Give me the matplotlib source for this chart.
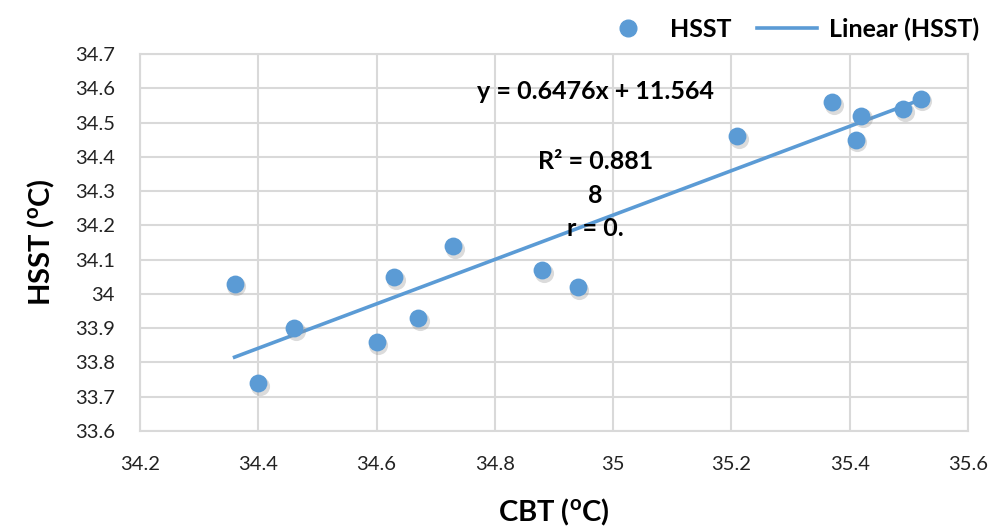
import numpy as np
import matplotlib
matplotlib.use('Agg')
import matplotlib.pyplot as plt
from matplotlib.lines import Line2D

plt.rcParams['font.family'] = ['Lato', 'DejaVu Sans']
plt.rcParams['mathtext.fontset'] = 'custom'
plt.rcParams['mathtext.rm'] = 'Lato:bold'
plt.rcParams['mathtext.it'] = 'Lato:bold'
plt.rcParams['mathtext.bf'] = 'Lato:bold'

# data
cbt = [34.36, 34.40, 34.46, 34.60, 34.63, 34.67, 34.73, 34.88, 34.94,
       35.21, 35.37, 35.41, 35.42, 35.49, 35.52]
hsst = [34.03, 33.74, 33.90, 33.86, 34.05, 33.93, 34.14, 34.07, 34.02,
        34.46, 34.56, 34.45, 34.52, 34.54, 34.57]
slope, intercept = 0.6476, 11.564
x_ticks = [34.2, 34.4, 34.6, 34.8, 35, 35.2, 35.4, 35.6]
y_ticks = [33.6, 33.7, 33.8, 33.9, 34, 34.1, 34.2, 34.3, 34.4, 34.5, 34.6, 34.7]

blue = '#5B9BD5'
grid = '#D9D9D9'

fig = plt.figure(figsize=(9.94, 5.31), dpi=100)
ax = fig.add_axes([0.1408, 0.1883, 0.8330, 0.7100])

# trendline over the data range
xl = np.array([min(cbt), max(cbt)])
ax.plot(xl, slope * xl + intercept, color=blue, lw=2.6, zorder=2)

# soft shadow, then markers
ax.scatter(np.array(cbt) + 0.003, np.array(hsst) - 0.008, s=190, color='#8a8a8a',
           alpha=0.3, linewidths=0, zorder=3)
ax.scatter(cbt, hsst, s=165, color=blue, linewidths=0, zorder=4)

ax.set_xlim(34.2, 35.6)
ax.set_ylim(33.6, 34.7)
ax.set_xticks(x_ticks)
ax.set_xticklabels([f'{t:g}' for t in x_ticks])
ax.set_yticks(y_ticks)
ax.set_yticklabels([f'{t:g}' for t in y_ticks])
ax.tick_params(length=0, labelsize=14.5, colors='#222222', pad=18)
ax.grid(True, color=grid, lw=1.5)
ax.set_axisbelow(True)
for s in ax.spines.values():
    s.set_color(grid)
    s.set_linewidth(1.5)

ax.set_xlabel(r'CBT ($^{\mathrm{o}}$C)', fontsize=21, fontweight='bold', labelpad=17)
ax.set_ylabel(r'HSST ($^{\mathrm{o}}$C)', fontsize=21, fontweight='bold', labelpad=13)

# equation texts
tx = 34.97
ax.text(tx, 34.592, f'y = {slope}x + {intercept}', fontsize=18, fontweight='bold',
        ha='center', va='center')
ax.text(tx, 34.385, 'R² = 0.881', fontsize=18, fontweight='bold', ha='center', va='center')
ax.text(tx, 34.286, '8', fontsize=18, fontweight='bold', ha='center', va='center')
ax.text(tx, 34.19, 'r = 0.', fontsize=18, fontweight='bold', ha='center', va='center')

handles = [Line2D([], [], ls='none', marker='o', ms=12, color=blue, mec=blue),
           Line2D([], [], color=blue, lw=2.6)]
fig.legend(handles, ['HSST', 'Linear (HSST)'], loc='upper right',
           bbox_to_anchor=(1.008, 1.01), ncol=2, frameon=False,
           prop={'size': 18, 'weight': 'bold'}, handlelength=2.4,
           columnspacing=1.0, handletextpad=0.5)

fig.savefig('out.png', dpi=100)
